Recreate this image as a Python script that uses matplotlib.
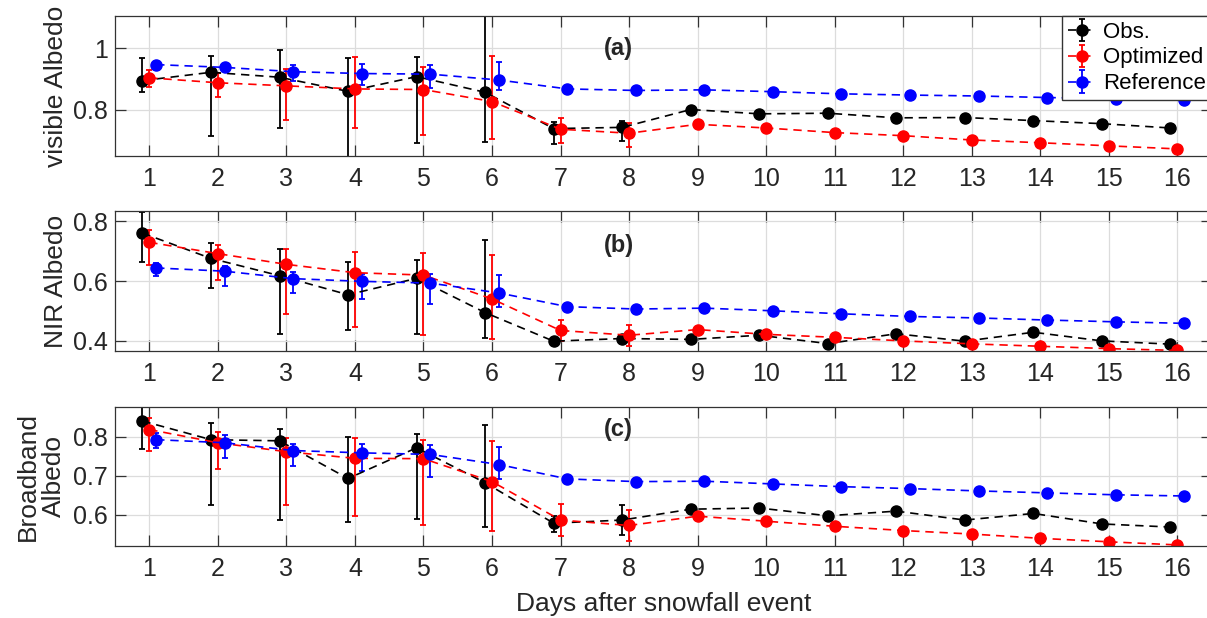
import matplotlib

matplotlib.use("Agg")
import matplotlib.pyplot as plt
import numpy as np

nan = np.nan

# days after the snowfall event
days = np.arange(1, 17)
xticks = list(range(1, 17))

# (a) visible albedo
vis_obs = [0.895, 0.922, 0.906, 0.860, 0.908, 0.857, 0.739, 0.743, 0.801, 0.787, 0.789, 0.774, 0.775, 0.765, 0.755, 0.741]
vis_obs_lo = [0.857, 0.715, 0.740, 0.646, 0.693, 0.696, 0.688, 0.698] + [nan] * 8
vis_obs_hi = [0.970, 0.975, 0.996, 0.970, 0.972, 1.120, 0.760, 0.764] + [nan] * 8
vis_opt = [0.904, 0.888, 0.878, 0.868, 0.866, 0.827, 0.737, 0.724, 0.753, 0.741, 0.726, 0.716, 0.702, 0.693, 0.683, 0.673]
vis_opt_lo = [0.875, 0.843, 0.767, 0.742, 0.717, 0.706, 0.693, 0.680] + [nan] * 8
vis_opt_hi = [0.930, 0.921, 0.934, 0.972, 0.939, 0.974, 0.775, 0.757] + [nan] * 8
vis_ref = [0.947, 0.938, 0.924, 0.918, 0.916, 0.897, 0.868, 0.863, 0.865, 0.859, 0.852, 0.848, 0.845, 0.840, 0.836, 0.833]
vis_ref_lo = [0.935, 0.925, 0.893, 0.882, 0.871, 0.866] + [nan] * 10
vis_ref_hi = [0.957, 0.950, 0.947, 0.948, 0.947, 0.955] + [nan] * 10

# (b) NIR albedo
nir_obs = [0.761, 0.676, 0.618, 0.554, 0.609, 0.494, 0.398, 0.407, 0.404, 0.418, 0.390, 0.423, 0.398, 0.428, 0.399, 0.388]
nir_obs_lo = [0.664, 0.576, 0.423, 0.436, 0.423, 0.409, 0.390, 0.395] + [nan] * 8
nir_obs_hi = [0.833, 0.728, 0.706, 0.663, 0.670, 0.737, 0.405, 0.418] + [nan] * 8
nir_opt = [0.730, 0.692, 0.656, 0.628, 0.620, 0.540, 0.434, 0.418, 0.437, 0.421, 0.411, 0.399, 0.389, 0.381, 0.373, 0.367]
nir_opt_lo = [0.653, 0.602, 0.490, 0.444, 0.420, 0.406, 0.397, 0.383] + [nan] * 8
nir_opt_hi = [0.770, 0.722, 0.709, 0.697, 0.694, 0.689, 0.470, 0.451] + [nan] * 8
nir_ref = [0.644, 0.633, 0.608, 0.599, 0.593, 0.560, 0.514, 0.506, 0.509, 0.500, 0.490, 0.481, 0.476, 0.469, 0.463, 0.458]
nir_ref_lo = [0.617, 0.583, 0.561, 0.539, 0.522, 0.512] + [nan] * 10
nir_ref_hi = [0.660, 0.650, 0.630, 0.625, 0.623, 0.619] + [nan] * 10

# (c) broadband albedo
bb_obs = [0.841, 0.793, 0.790, 0.693, 0.772, 0.682, 0.578, 0.586, 0.614, 0.617, 0.597, 0.609, 0.586, 0.603, 0.576, 0.568]
bb_obs_lo = [0.769, 0.625, 0.586, 0.582, 0.590, 0.569, 0.554, 0.547] + [nan] * 8
bb_obs_hi = [0.877, 0.837, 0.820, 0.799, 0.808, 0.832, 0.596, 0.626] + [nan] * 8
bb_opt = [0.819, 0.785, 0.762, 0.745, 0.744, 0.685, 0.586, 0.572, 0.596, 0.583, 0.570, 0.559, 0.550, 0.539, 0.530, 0.522]
bb_opt_lo = [0.763, 0.717, 0.624, 0.596, 0.573, 0.558, 0.545, 0.532] + [nan] * 8
bb_opt_hi = [0.850, 0.812, 0.798, 0.796, 0.793, 0.790, 0.628, 0.612] + [nan] * 8
bb_ref = [0.793, 0.785, 0.765, 0.759, 0.755, 0.729, 0.692, 0.685, 0.686, 0.679, 0.672, 0.667, 0.661, 0.656, 0.651, 0.648]
bb_ref_lo = [0.772, 0.745, 0.726, 0.712, 0.697, 0.692] + [nan] * 10
bb_ref_hi = [0.810, 0.805, 0.782, 0.781, 0.778, 0.774] + [nan] * 10

series_labels = ["Obs.", "Optimized", "Reference"]
series_colors = ["black", "#ff0000", "#0000ff"]
x_offsets = [-0.1, 0.0, 0.1]

panels = [
    {
        "ylabel": "visible Albedo", "tag": "(a)", "tag_y": 1.0,
        "ylim": (0.65, 1.105), "yticks": [0.8, 1.0], "yticklabels": ["0.8", "1"],
        "pos": [0.0953, 0.7476, 0.9085, 0.2265], "ylabel_x": -0.043,
        "series": [(vis_obs, vis_obs_lo, vis_obs_hi), (vis_opt, vis_opt_lo, vis_opt_hi), (vis_ref, vis_ref_lo, vis_ref_hi)],
    },
    {
        "ylabel": "NIR Albedo", "tag": "(b)", "tag_y": 0.72,
        "ylim": (0.365, 0.835), "yticks": [0.4, 0.6, 0.8], "yticklabels": ["0.4", "0.6", "0.8"],
        "pos": [0.0953, 0.432, 0.9085, 0.2265], "ylabel_x": -0.043,
        "series": [(nir_obs, nir_obs_lo, nir_obs_hi), (nir_opt, nir_opt_lo, nir_opt_hi), (nir_ref, nir_ref_lo, nir_ref_hi)],
    },
    {
        "ylabel": "Broadband\nAlbedo", "tag": "(c)", "tag_y": 0.82,
        "ylim": (0.52, 0.878), "yticks": [0.6, 0.7, 0.8], "yticklabels": ["0.6", "0.7", "0.8"],
        "pos": [0.0953, 0.117, 0.9085, 0.225], "ylabel_x": -0.045,
        "series": [(bb_obs, bb_obs_lo, bb_obs_hi), (bb_opt, bb_opt_lo, bb_opt_hi), (bb_ref, bb_ref_lo, bb_ref_hi)],
    },
]

plt.rcParams["font.family"] = ["Liberation Sans", "DejaVu Sans"]
TEXT_COLOR = "#262626"

fig = plt.figure(figsize=(12.07, 6.18), dpi=100)
axes = []
for panel in panels:
    ax = fig.add_axes(panel["pos"])
    axes.append(ax)
    for (vals, lo, hi), label, color, dx in zip(panel["series"], series_labels, series_colors, x_offsets):
        vals = np.asarray(vals)
        yerr = np.vstack([vals - np.asarray(lo), np.asarray(hi) - vals])
        ax.errorbar(days + dx, vals, yerr=yerr, color=color, linestyle=(0, (5, 3.5)), linewidth=1.2,
                    marker="o", markersize=8, elinewidth=1.3, capsize=2.5, capthick=1.3, label=label)
    ax.set_xlim(0.5, 16.5)
    ax.set_ylim(*panel["ylim"])
    ax.set_xticks(xticks)
    ax.set_yticks(panel["yticks"])
    ax.set_yticklabels(panel["yticklabels"])
    ax.grid(True, color="#dcdcdc", linewidth=0.9)
    ax.set_axisbelow(True)
    ax.tick_params(direction="in", length=8, width=0.9, top=True, right=True, labelsize=18,
                   labelcolor=TEXT_COLOR, color="#333333")
    ax.tick_params(axis="x", pad=8)
    ax.tick_params(axis="y", pad=5)
    for spine in ax.spines.values():
        spine.set_color("#333333")
        spine.set_linewidth(0.9)
    ax.set_ylabel(panel["ylabel"], fontsize=19, color=TEXT_COLOR, linespacing=1.1)
    ax.yaxis.set_label_coords(panel["ylabel_x"], 0.5)
    ax.text(7.85, panel["tag_y"], panel["tag"], fontsize=17, fontweight="bold", ha="center", va="center", color=TEXT_COLOR)

axes[0].legend(loc="upper right", bbox_to_anchor=(1.0, 1.0), borderaxespad=0, fontsize=16, frameon=True,
               fancybox=False, edgecolor="#333333", framealpha=1, handlelength=1.3, handletextpad=0.3,
               labelspacing=0.22, borderpad=0.25)
axes[2].set_xlabel("Days after snowfall event", fontsize=19, color=TEXT_COLOR)
axes[2].xaxis.set_label_coords(0.5, -0.33)
axes[2].xaxis.label.set_va("top")

fig.savefig("out.png", dpi=100)
